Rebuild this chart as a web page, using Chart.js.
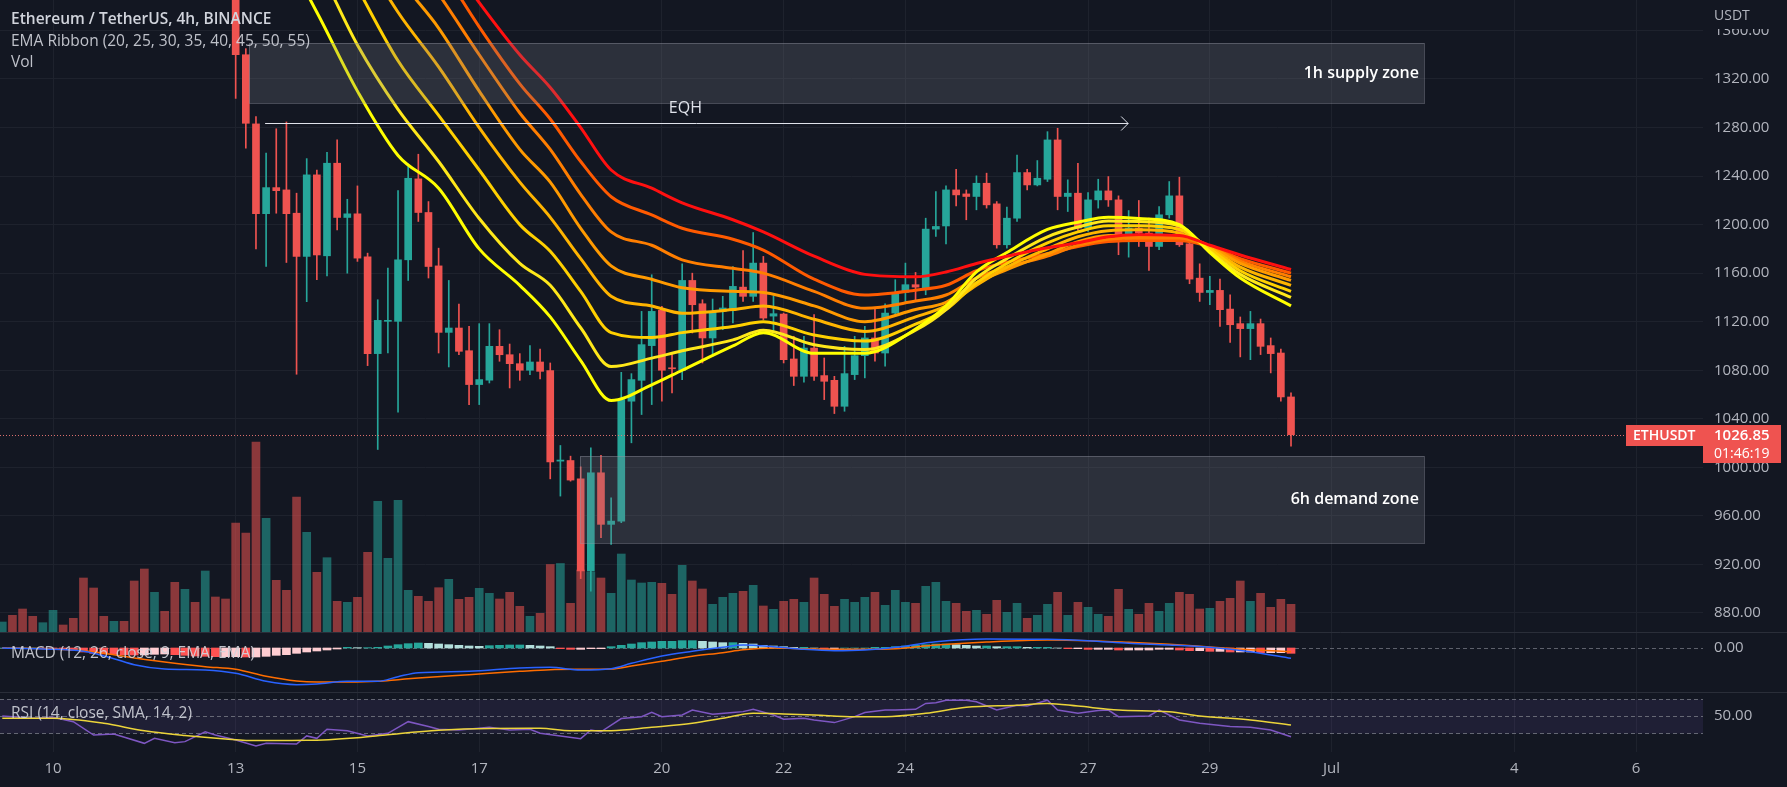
<!DOCTYPE html>
<html>
<head>
<meta charset="utf-8">
<script src="https://cdn.jsdelivr.net/npm/chart.js@4.4.0/dist/chart.umd.min.js"></script>
<style>
  html, body { margin: 0; padding: 0; background: #131722; overflow: hidden; }
  #wrap { position: relative; width: 1787px; height: 787px; background: #131722; }
  .pane { position: absolute; left: 0; }
  canvas { display: block; }
</style>
</head>
<body>
<div id="wrap">
  <div class="pane" style="top:0"><canvas id="mainChart" width="1787" height="632"></canvas></div>
  <div class="pane" style="top:632px"><canvas id="macdChart" width="1787" height="60"></canvas></div>
  <div class="pane" style="top:692px"><canvas id="rsiChart" width="1787" height="95"></canvas></div>
</div>
<script>
// ---- ETHUSDT 4h candles, index 0 = 13 Jun 00:00 ----
const candleOpen = [1440,1340,1283,1209,1230.5,1228.6,1209.4,1173.8,1241,1174.3,
  1250.6,1205.9,1208.9,1173.5,1093.7,1120.3,1120.3,1171,1237.7,1210,
  1166,1111.2,1114.8,1096.1,1068.2,1071.8,1099.7,1092.8,1085.4,1080,
  1086.8,1079.7,1005.1,1005.6,990.6,914.6,995.5,953,955.7,1054.5,
  1071.7,1100.3,1129.4,1081.9,1080,1154,1134.8,1106.6,1128.5,1130.4,
  1148.5,1140.9,1168.3,1124.6,1126.3,1089.3,1075,1098.3,1075.6,1071.7,
  1050.3,1076.4,1092,1106.6,1094.2,1127.1,1144.1,1150.5,1147.7,1196.3,
  1198.9,1228.6,1225.3,1223.2,1234.1,1217.1,1183.4,1205.3,1242.9,1232.7,
  1237.4,1269.8,1223.2,1225.9,1197.1,1220.4,1227.8,1220.4,1186.9,1197.1,
  1193,1182,1208.1,1223.7,1184.2,1155.9,1144.1,1145.8,1130.4,1118.4,
  1114.3,1118.4,1100.3,1094.2,1058];
const candleHigh = [1455,1345,1289,1259,1279,1284.6,1225.9,1254.4,1245,1259.6,
  1269.8,1220.9,1231.9,1176.5,1138.1,1164.2,1228,1250,1258,1219,
  1180.6,1154,1134.5,1116.2,1118.4,1118.4,1113.4,1101.6,1093.7,1100.3,
  1097.5,1086,1018,1009.2,1000.4,1016.1,1009.8,974.9,1078.3,1077.2,
  1128.5,1158.7,1132.6,1092.9,1167.7,1160,1138.1,1138.7,1140.9,1165.5,
  1178.7,1193.5,1173.8,1141.4,1127.1,1108,1108,1125.8,1090.1,1075,
  1099.7,1108,1116.2,1131.3,1134.8,1154.6,1168.3,1160.6,1205.3,1227.3,
  1231.9,1245.6,1228.6,1240.2,1242.4,1219,1214.4,1257.4,1245.6,1252.8,
  1276.6,1279.4,1236.9,1250.6,1226.4,1237.4,1239.6,1223.7,1211.6,1219.9,
  1205.3,1214.9,1235.5,1239.1,1187.5,1167.7,1157.3,1155.1,1142.2,1123.9,
  1128.5,1122.2,1106.6,1097.5,1061.3];
const candleLow = [1304,1263,1180,1165.5,1209.4,1168.8,1076.7,1136.5,1154.6,1157.8,
  1195.7,1160,1169.7,1083.8,1014.7,1094.2,1045.4,1154,1202.6,1156,
  1094.2,1082.7,1092.8,1051.7,1051.7,1069.5,1087.4,1065.4,1071.7,1076.4,
  1072.8,990.5,976.3,988.6,908.3,898,942,936.5,954.4,1020.2,
  1043.5,1051.7,1054.5,1061.3,1072.3,1110.7,1086,1091.5,1113.4,1118.9,
  1136.7,1136.7,1121.7,1110.7,1086,1067.4,1070.1,1071.7,1055.8,1044.3,
  1046.2,1072.3,1073.7,1087.4,1083.3,1124.4,1135.4,1138.1,1142.2,1190.2,
  1184.2,1215.5,1204,1212.2,1213.6,1180.6,1180.6,1202.6,1228.6,1231.9,
  1235.5,1212.2,1210.8,1195.2,1194.4,1213.6,1215,1175.2,1173.2,1182,
  1162.3,1179.3,1205.3,1182,1151.3,1136.7,1134,1116.2,1103,1091,
  1088.7,1092.9,1077.8,1054.5,1017.4];
const candleClose = [1340,1283.5,1209,1230.5,1228,1209,1173.8,1241,1175,1250.6,
  1205.9,1208.9,1172.4,1093.7,1121.1,1120.6,1171,1238.2,1210,1165.5,
  1111.2,1114.8,1095.6,1068.2,1072.3,1099.7,1092.8,1085.4,1080,1086.8,
  1079.1,1004.5,1006,989.5,914.6,995.5,953,955.7,1055.9,1072.3,
  1101.1,1128.5,1080,1081.2,1154,1134,1106.6,1128.5,1131.3,1149.1,
  1140.9,1168.3,1123,1126.6,1088.7,1075,1098.3,1075,1070.9,1050.3,
  1077.2,1092,1106.6,1094.2,1127.1,1144.1,1150.5,1148.5,1196.3,1198.5,
  1228.6,1224.5,1223.2,1234.1,1216.3,1183.4,1205.3,1242.9,1232.7,1238.2,
  1269.8,1223.2,1225.9,1197.1,1220.4,1227.8,1220.4,1186.1,1197.1,1193,
  1182,1208.1,1223.7,1183.4,1155.1,1144.1,1145.8,1129.9,1117.5,1114.3,
  1118.4,1099.7,1093.7,1058,1026.85];
const volumes = [109,99,190,113.7,51.7,41.7,135,99.7,59.7,74.3,
  30.7,29.7,34.7,79.7,130.7,73.7,131.7,41.7,35.7,30.7,
  44.3,52.7,32.7,34.7,43.7,38.7,33,39.7,25.7,15.7,
  18.7,67.5,68.5,28.7,62,60,54,38.7,78,52,
  49,49.7,48.7,37.7,66.7,51,43,27.7,34.7,38.7,
  40.7,46.7,26,22.7,30.7,32.7,29.7,54,37.7,25.7,
  32.7,29.7,34.7,39.7,26.7,41.7,29.7,28.7,45.7,49.7,
  30.7,28.7,20.7,21.7,17.7,31.7,19.7,28.7,13.7,16.7,
  27.7,39.7,16.7,29.7,24.7,17.7,15.7,42.7,22.7,17.7,
  28.7,20.7,28.7,39.7,37.7,23,23.7,30.7,33.7,51,
  30.7,38.7,24.7,32.7,27.7];
// volume of the 23 candles before 13 Jun (their prices are above the visible range)
const earlyVolumes = [10,16.7,23,15.7,9.3,21.7,7,13.7,54,44,15.7,10.7,10.7,51,63,39.7,20.7,49.7,42.7,29.7,61,35,33];
const earlyVolumeUp = [true,false,false,false,true,true,false,false,false,false,false,true,false,false,false,true,false,false,true,false,true,false,false];

// ---- EMA ribbon (read at these candle indexes) ----
const emaIndex = [0,4,8,12,16,20,24,28,31,34,37,41,44,49,52,57,62,67,70,73,76,80,83,86,89,93,96,99,104];
const ema20 = [1470,1435,1375,1310,1257,1230,1180,1150,1124,1088,1055,1068,1080,1100,1111,1094,1094,1114,1133,1161,1177,1196,1202,1206,1205,1200,1177,1156,1133];
const ema25 = [1500,1470,1415,1348,1295,1252,1205,1168,1150,1115,1083,1090,1096,1105,1113,1101,1097,1113,1130,1156,1172,1190,1198,1203,1202.6,1199,1178,1159,1140];
const ema30 = [1530,1500,1455,1395,1335,1290,1245,1200,1178,1145,1111,1107,1111,1116,1120,1109,1104,1118,1130,1152,1168,1185,1194,1199,1199,1196,1180,1162,1145];
const ema35 = [1550,1525,1490,1430,1375,1330,1280,1235,1206,1172,1141,1133,1127,1130,1133,1122,1112,1124,1133,1150,1165,1180,1190,1195,1195.7,1193,1181,1165,1150];
const ema40 = [1565,1545,1515,1462,1405,1362,1310,1262,1235,1197,1166,1155,1148,1145,1144,1133,1120,1130,1136,1152,1163,1176,1186,1191,1191,1191,1182,1168,1154];
const ema45 = [1580,1565,1535,1490,1435,1390,1340,1292,1262,1225,1194,1183,1171,1164,1160,1145,1131,1137,1142,1156,1165,1174,1183,1188,1189,1189,1182,1170,1157];
const ema50 = [1590,1580,1555,1515,1462,1415,1363,1316,1287,1252,1223,1208,1197,1188,1179,1155,1142,1146,1150,1162,1169,1176,1182,1186,1187,1187,1182,1172,1160];
const ema55 = [1600,1592,1572,1535,1485,1430,1383,1340,1313,1280,1245,1230,1218,1204,1194,1174,1159,1157,1161,1168,1174,1181,1185,1190,1191.6,1191,1183,1175,1163];

// ---- MACD (12, 26, 9) ----
const indicatorStart = -23; // first candle index shown in the lower panes
const macdHist = [0,0,0,0,-0.5,-1,
  -2,-4,-6,-8,-9,-9.5,-10,-10.5,-10.5,
  -9.5,-9,
  -10,-11,-12,-12.5,-13,-13,-13,-13.5,-13.5,
  -12.5,-11,-10,-8,-6,-4.5,-3,-1.5,
  1,0.5,0.5,1,3,5,6.5,7.5,7,6,5,4,3,2.5,3.5,4,4.5,4.5,4,3,2,
  -1,-2,-2,-1,-1,
  2,4,6,8,9,10,10,11,11,10,9,8,8,7,6,4,
  3,2,1,1,0,-1,-1,0,0,0,1,1,
  2,3,4,5,6,6,5,4,3,3,2,2,2,1,1,1,0,
  -1,-1,-2,-2,-2,-3,-3,-3,-3,-2,-2,-3,-4,-4,-5,-5,-6,-6,-6,-7,-7,-7,-8];
const macdIndex = [-23,-19,-15,-12,-10,-7,-3,0,3,6,8,11,14,16,18,23,28,31,34,37,39,42,45,48,50,53,56,59,62,65,69,74,80,84,88,92,96,100,104];
const macdLine = [0,-1.5,-5,-16,-25,-31.5,-33,-38,-50,-55,-54,-50,-50,-43,-37,-35,-30,-29,-33,-31,-23,-12,-5,1,4.5,2,-2,-4,-3,1,9.5,13.5,13,11,7,4.5,1,-5.5,-15.5];
const macdSignal = [0.5,-1,-4,-10,-15,-21,-28,-32,-42.5,-49.5,-51,-51,-50,-47.5,-45,-40,-35,-32.5,-32,-31.5,-27,-20,-12.5,-7,-2.5,0,-1,-2,-2,-1,4.5,9,12,11,8.5,5.5,1.5,-2.5,-5.5];

// ---- RSI (14) and its SMA (14) ----
const rsiIndex = [-23,-20,-18,-16,-14,-12,-9,-8,-6,-5,-3,-2,0,2,3,6,7,8,9,11,13,15,17,19,20,22,25,27,29,30,32,34,35,36,38,40,41,42,44,45,47,49,50,51,53,54,56,57,59,61,62,64,65,67,68,69,70,72,73,75,77,78,80,81,83,85,86,87,90,91,93,95,98,100,102,104];
const rsiValues = [50,47.3,48.4,43.3,27.6,28.8,17.8,23.7,18.6,19.8,31.4,27.6,21.7,14.7,17.8,17,26.5,23.7,34.3,32.7,26.5,29.6,43.3,37.5,34.3,33.5,36.7,33.5,34.3,29.6,26.5,23.3,33.5,31.4,46.9,49.2,54.3,49.2,51.2,57,52,54,55.1,57.8,51.2,46.1,47.3,45.3,42.2,49.2,54,57,57,57.8,64.7,65.5,68.6,68.6,66.7,57,62.7,61.6,68.6,57,53.1,56.3,57,49.2,50,57,45.3,41.4,37.5,36.7,33.5,25.5];
const rsiMaIndex = [-23,-18,-13,-9,-5,-1,2,7,12,15,20,25,30,33,37,41,45,48,51,54,57,61,64,68,72,77,80,83,87,92,95,100,104];
const rsiMaValues = [47.3,47.3,41.4,32.5,27,23,21,21.3,24.5,28,33.2,35.3,35.5,32.7,32.7,36.7,41.4,47.3,53.1,52.4,51.2,49.2,49.2,53.1,60.2,62.7,64.7,61.6,57,55.1,50,45.3,39.4];

// ---- axis ticks (hours from 13 Jun 00:00) ----
const dayTicks = [-72, 0, 48, 96, 168, 216, 264, 336, 384, 432, 504, 552];
const dayLabels = ['10', '13', '15', '17', '20', '22', '24', '27', '29', 'Jul', '4', '6'];
const priceTicks = [880, 920, 960, 1000, 1040, 1080, 1120, 1160, 1200, 1240, 1280, 1320, 1360];

// ---- drawings on the chart (hours / prices) ----
const supplyZone = { from: 5.3, to: 468.3, low: 1300, high: 1349.5, label: '1h supply zone' };
const demandZone = { from: 135.7, to: 468.3, low: 938, high: 1009.7, label: '6h demand zone' };
const eqhLine = { from: 11.6, to: 351.8, price: 1283.5, label: 'EQH' };

// ---------------------------------------------------------------
const HOURS = 4;
const X_MIN = -92.9, X_MAX = 578.4;
const UP = '#26a69a', DOWN = '#ef5350';
const VOL_UP = 'rgba(38,166,154,0.55)', VOL_DOWN = 'rgba(239,83,80,0.55)';
const GRID = '#1e222d', AXIS_TEXT = '#b2b5be', LEGEND_TEXT = 'rgba(209,212,220,0.9)';
const FONT = '"Open Sans", sans-serif';

Chart.defaults.font.family = FONT;

const hourOf = k => k * HOURS;
const isUp = k => candleClose[k] >= candleOpen[k];
const points = (idx, vals) => idx.map((k, i) => ({ x: hourOf(k), y: vals[i] }));

function xAxis(showLabels) {
  return {
    type: 'linear', min: X_MIN, max: X_MAX, offset: false,
    afterBuildTicks: s => { s.ticks = dayTicks.map(v => ({ value: v })); },
    afterFit: s => {
      s.paddingLeft = 0; s.paddingRight = 0;
      if (showLabels) s.height = 35;
    },
    grid: { color: GRID, drawTicks: false, offset: false },
    border: { display: false },
    ticks: {
      display: showLabels, autoSkip: false, maxRotation: 0, padding: 8,
      color: AXIS_TEXT, font: { size: 15 },
      callback: (v, i) => dayLabels[i]
    }
  };
}

function yAxis(min, max, ticks, showGrid) {
  return {
    position: 'right', min: min, max: max,
    afterBuildTicks: s => { s.ticks = ticks.map(v => ({ value: v })); },
    afterFit: s => { s.width = 84; s.paddingTop = 0; s.paddingBottom = 0; },
    grid: { display: showGrid, color: GRID, drawTicks: false },
    border: { display: false },
    ticks: { padding: 11, color: AXIS_TEXT, font: { size: 15 }, callback: v => Number(v).toFixed(2) }
  };
}

const baseOptions = {
  responsive: false,
  maintainAspectRatio: false,
  animation: false,
  devicePixelRatio: 1,
  events: [],
  layout: { padding: 0 },
  plugins: { legend: { display: false }, tooltip: { enabled: false } }
};

function separator(chart) {
  const ctx = chart.ctx;
  ctx.save();
  ctx.strokeStyle = '#2a2e39';
  ctx.lineWidth = 1;
  ctx.beginPath();
  ctx.moveTo(0, 0.5);
  ctx.lineTo(chart.width, 0.5);
  ctx.stroke();
  ctx.restore();
}

// --- Main price pane ---
const bodyData = candleOpen.map((o, k) => ({ x: hourOf(k), y: [o, candleClose[k]] }));
const wickData = candleLow.map((l, k) => ({ x: hourOf(k), y: [l, candleHigh[k]] }));
const candleColors = candleOpen.map((o, k) => isUp(k) ? UP : DOWN);
const volData = earlyVolumes.map((v, i) => ({ x: hourOf(i - earlyVolumes.length), y: v }))
  .concat(volumes.map((v, k) => ({ x: hourOf(k), y: v })));
const volColors = earlyVolumeUp.map(u => u ? VOL_UP : VOL_DOWN)
  .concat(candleOpen.map((o, k) => isUp(k) ? VOL_UP : VOL_DOWN));

const ribbon = [
  ['EMA 55', ema55, '#ff1010', 1],
  ['EMA 20', ema20, '#ffff00', 2],
  ['EMA 25', ema25, '#ffe81a', 3],
  ['EMA 30', ema30, '#ffd000', 4],
  ['EMA 35', ema35, '#ffb400', 5],
  ['EMA 40', ema40, '#ff9a00', 6],
  ['EMA 45', ema45, '#ff7e00', 7],
  ['EMA 50', ema50, '#ff5a00', 8]
];

const mainOverlay = {
  id: 'mainOverlay',
  afterDatasetsDraw(chart) {
    const { ctx, chartArea: a, scales: { x, y } } = chart;
    ctx.save();
    ctx.beginPath();
    ctx.rect(a.left, a.top, a.right - a.left, a.bottom - a.top);
    ctx.clip();

    [supplyZone, demandZone].forEach(z => {
      const x0 = Math.round(x.getPixelForValue(z.from));
      const x1 = Math.round(x.getPixelForValue(z.to));
      const y0 = Math.round(y.getPixelForValue(z.high));
      const y1 = Math.round(y.getPixelForValue(z.low));
      ctx.fillStyle = 'rgba(120,123,134,0.25)';
      ctx.fillRect(x0, y0, x1 - x0, y1 - y0);
      ctx.strokeStyle = 'rgba(150,153,164,0.4)';
      ctx.lineWidth = 1;
      ctx.strokeRect(x0 + 0.5, y0 + 0.5, x1 - x0, y1 - y0);
      ctx.fillStyle = '#ffffff';
      ctx.font = '600 16px ' + FONT;
      ctx.textAlign = 'right';
      ctx.textBaseline = 'middle';
      ctx.fillText(z.label, x1 - 5, (y0 + y1) / 2);
    });

    // EQH arrow
    const ey = Math.round(y.getPixelForValue(eqhLine.price)) + 0.5;
    const ex0 = x.getPixelForValue(eqhLine.from);
    const ex1 = x.getPixelForValue(eqhLine.to);
    ctx.strokeStyle = '#e0e3eb';
    ctx.lineWidth = 1;
    ctx.beginPath();
    ctx.moveTo(ex0, ey);
    ctx.lineTo(ex1, ey);
    ctx.moveTo(ex1 - 7, ey - 7);
    ctx.lineTo(ex1, ey);
    ctx.lineTo(ex1 - 7, ey + 7);
    ctx.stroke();
    ctx.fillStyle = '#e0e3eb';
    ctx.font = '16px ' + FONT;
    ctx.textAlign = 'center';
    ctx.textBaseline = 'middle';
    ctx.fillText(eqhLine.label, ex0 + (ex1 - ex0) * 0.487, ey - 15);

    // last price line
    const last = candleClose[candleClose.length - 1];
    const py = Math.round(y.getPixelForValue(last)) + 0.5;
    ctx.strokeStyle = 'rgba(239,120,118,0.9)';
    ctx.setLineDash([1, 2]);
    ctx.beginPath();
    ctx.moveTo(a.left, py);
    ctx.lineTo(a.right, py);
    ctx.stroke();
    ctx.setLineDash([]);
    ctx.restore();
  },
  afterDraw(chart) {
    const { ctx, chartArea: a, scales: { y } } = chart;
    ctx.save();
    // price tag
    const last = candleClose[candleClose.length - 1];
    const py = Math.round(y.getPixelForValue(last));
    ctx.fillStyle = DOWN;
    ctx.fillRect(a.right - 77, py - 10, 78, 21);
    ctx.fillRect(a.right, py - 10, 78, 38);
    ctx.fillStyle = '#ffffff';
    ctx.textAlign = 'left';
    ctx.textBaseline = 'middle';
    ctx.font = '600 14px ' + FONT;
    ctx.fillText('ETHUSDT', a.right - 70, py + 1);
    ctx.font = '600 15px ' + FONT;
    ctx.fillText(last.toFixed(2), a.right + 11, py + 1);
    ctx.font = '14px ' + FONT;
    ctx.fillText('01:46:19', a.right + 11, py + 19);

    // currency label covering the clipped top tick
    ctx.fillStyle = '#131722';
    ctx.fillRect(a.right, 0, chart.width - a.right, 29);
    ctx.fillStyle = AXIS_TEXT;
    ctx.font = '14px ' + FONT;
    ctx.fillText('USDT', a.right + 11, 16);

    // legend
    ctx.fillStyle = '#d1d4dc';
    ctx.font = '600 15.5px ' + FONT;
    ctx.fillText('Ethereum / TetherUS, 4h, BINANCE', 11, 20);
    ctx.fillStyle = LEGEND_TEXT;
    ctx.font = '15.5px ' + FONT;
    ctx.fillText('EMA Ribbon (20, 25, 30, 35, 40, 45, 50, 55)', 11, 42);
    ctx.fillText('Vol', 11, 63);
    ctx.restore();
  }
};

new Chart(document.getElementById('mainChart'), {
  type: 'bar',
  data: {
    datasets: ribbon.map(([label, vals, color, order]) => ({
      type: 'line', label: label, data: points(emaIndex, vals),
      borderColor: color, borderWidth: 3, pointRadius: 0,
      cubicInterpolationMode: 'monotone', order: order, yAxisID: 'y'
    })).concat([
      { type: 'bar', label: 'Bodies', data: bodyData, backgroundColor: candleColors,
        barThickness: 7, minBarLength: 1, grouped: false, order: 10, yAxisID: 'y' },
      { type: 'bar', label: 'Wicks', data: wickData, backgroundColor: candleColors,
        barThickness: 1, grouped: false, order: 11, yAxisID: 'y' },
      { type: 'bar', label: 'Vol', data: volData, backgroundColor: volColors,
        barThickness: 8, grouped: false, order: 20, yAxisID: 'yv' }
    ])
  },
  options: Object.assign({}, baseOptions, {
    scales: {
      x: xAxis(false),
      y: yAxis(864.3, 1385.1, priceTicks, true),
      yv: { display: false, min: 0, max: 632 }
    }
  }),
  plugins: [mainOverlay]
});

// --- MACD pane ---
const histData = macdHist.map((v, i) => ({ x: hourOf(i + indicatorStart), y: v }));
const histColors = macdHist.map((v, i) => {
  const prev = i > 0 ? macdHist[i - 1] : v;
  if (v >= 0) return v >= prev ? '#26a69a' : '#b2dfdb';
  return v < prev ? '#ff5252' : '#ffcdd2';
});

new Chart(document.getElementById('macdChart'), {
  type: 'bar',
  data: {
    datasets: [
      { type: 'line', label: 'MACD', data: points(macdIndex, macdLine), borderColor: '#2962ff',
        borderWidth: 1.5, pointRadius: 0, cubicInterpolationMode: 'monotone', order: 1 },
      { type: 'line', label: 'Signal', data: points(macdIndex, macdSignal), borderColor: '#ff6d00',
        borderWidth: 1.5, pointRadius: 0, cubicInterpolationMode: 'monotone', order: 2 },
      { type: 'bar', label: 'Histogram', data: histData, backgroundColor: histColors,
        barThickness: 8, grouped: false, order: 3 }
    ]
  },
  options: Object.assign({}, baseOptions, {
    scales: { x: xAxis(false), y: yAxis(-66, 24, [0], false) }
  }),
  plugins: [{
    id: 'macdOverlay',
    beforeDatasetsDraw(chart) {
      const { ctx, chartArea: a, scales: { y } } = chart;
      const zy = Math.round(y.getPixelForValue(0)) + 0.5;
      ctx.save();
      ctx.strokeStyle = 'rgba(120,123,134,0.75)';
      ctx.setLineDash([4, 3]);
      ctx.beginPath();
      ctx.moveTo(a.left, zy);
      ctx.lineTo(a.right, zy);
      ctx.stroke();
      ctx.restore();
    },
    afterDraw(chart) {
      separator(chart);
      const ctx = chart.ctx;
      ctx.save();
      ctx.fillStyle = LEGEND_TEXT;
      ctx.font = '15.5px ' + FONT;
      ctx.textBaseline = 'middle';
      ctx.fillText('MACD (12, 26, close, 9, EMA, EMA)', 11, 22);
      ctx.restore();
    }
  }]
});

// --- RSI pane ---
new Chart(document.getElementById('rsiChart'), {
  type: 'line',
  data: {
    datasets: [
      { label: 'RSI', data: points(rsiIndex, rsiValues), borderColor: '#7e57c2',
        borderWidth: 1.5, pointRadius: 0, tension: 0, order: 2 },
      { label: 'RSI MA', data: points(rsiMaIndex, rsiMaValues), borderColor: '#ecd53a',
        borderWidth: 1.5, pointRadius: 0, cubicInterpolationMode: 'monotone', order: 1 }
    ]
  },
  options: Object.assign({}, baseOptions, {
    scales: { x: xAxis(true), y: yAxis(7.6, 78.2, [50], false) }
  }),
  plugins: [{
    id: 'rsiOverlay',
    beforeDatasetsDraw(chart) {
      const { ctx, chartArea: a, scales: { y } } = chart;
      const y70 = Math.round(y.getPixelForValue(70)) + 0.5;
      const y30 = Math.round(y.getPixelForValue(30)) + 0.5;
      const y50 = Math.round(y.getPixelForValue(50)) + 0.5;
      ctx.save();
      ctx.fillStyle = 'rgba(126,87,194,0.12)';
      ctx.fillRect(a.left, y70, a.right - a.left, y30 - y70);
      ctx.strokeStyle = 'rgba(120,123,134,0.8)';
      ctx.setLineDash([4, 3]);
      [y70, y50, y30].forEach(v => {
        ctx.beginPath();
        ctx.moveTo(a.left, v);
        ctx.lineTo(a.right, v);
        ctx.stroke();
      });
      ctx.restore();
    },
    afterDraw(chart) {
      separator(chart);
      const ctx = chart.ctx;
      ctx.save();
      ctx.fillStyle = LEGEND_TEXT;
      ctx.font = '15.5px ' + FONT;
      ctx.textBaseline = 'middle';
      ctx.fillText('RSI (14, close, SMA, 14, 2)', 11, 22);
      ctx.restore();
    }
  }]
});
</script>
</body>
</html>
